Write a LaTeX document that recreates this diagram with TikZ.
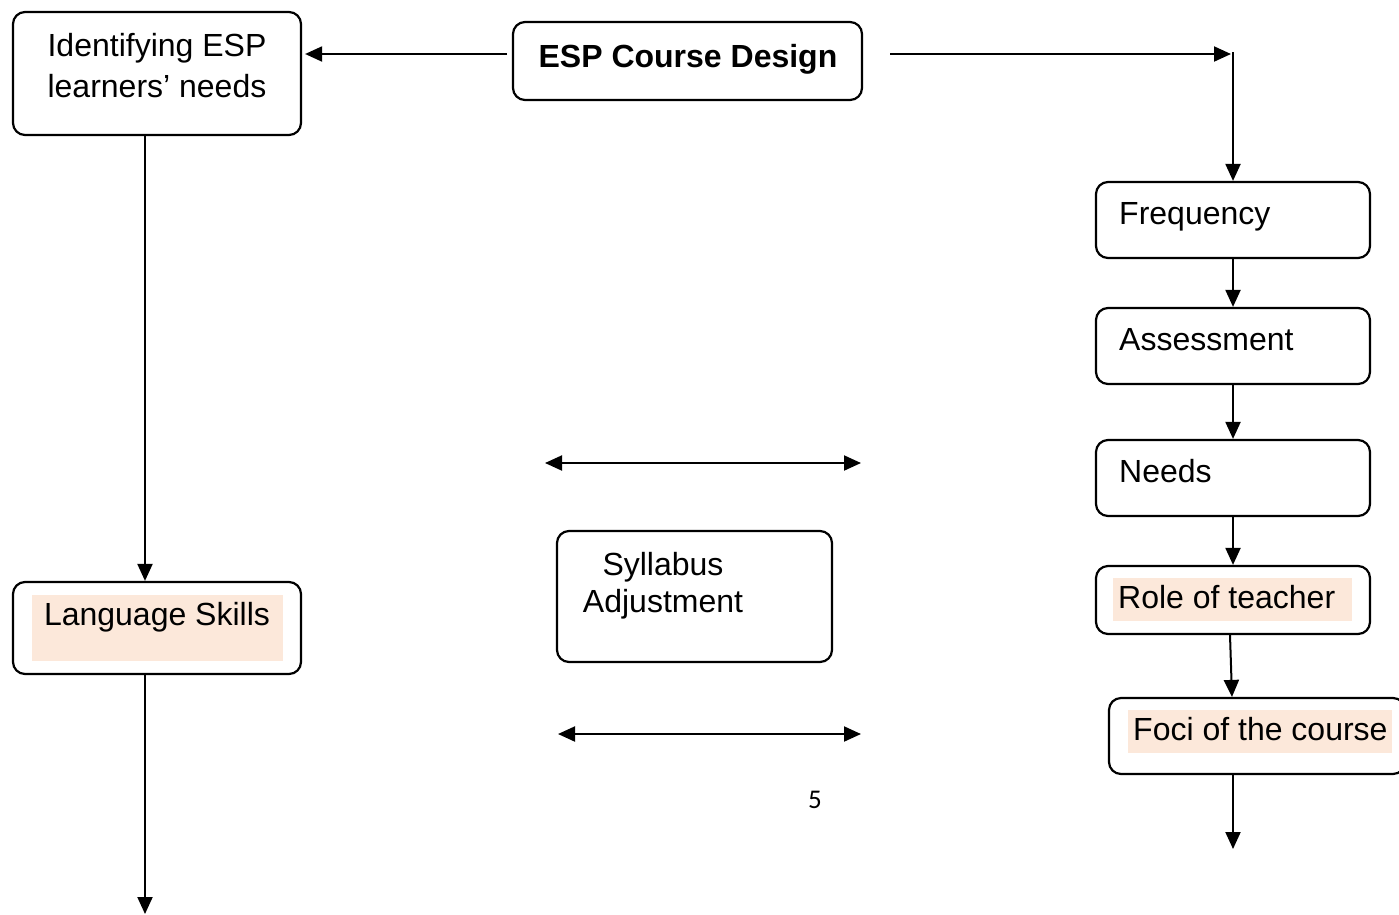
\documentclass[tikz,border=0pt]{standalone}
\usepackage{fontspec}
\setmainfont{Liberation Sans}
\newfontfamily\pagenumfont{Carlito}
\usetikzlibrary{arrows.meta}
\definecolor{peach}{RGB}{252,232,218}
\begin{document}
\begin{tikzpicture}[x=1pt,y=-1pt,
  box/.style={draw,line width=2.2pt,rounded corners=12pt,inner sep=0pt,minimum width=#1},
  box/.default=274pt,
  lbl/.style={inner sep=0pt,font=\fontsize{32}{41}\selectfont},
  arr/.style={line width=2pt,-{Triangle[length=17pt,width=15pt]}},
  darr/.style={line width=2pt,{Triangle[length=17pt,width=15pt]}-{Triangle[length=17pt,width=15pt]}},
  hl/.style={fill=peach}]
\useasboundingbox (0,0) rectangle (1399,914);
\begin{scope}
\clip (0,0) rectangle (1399,914);
% boxes
\node[box=288pt,minimum height=123pt] (A) at (157,73.5) {};
\node[box=349pt,minimum height=78pt] (B) at (687.5,61) {};
\node[box,minimum height=76pt] (F) at (1233,220) {};
\node[box,minimum height=76pt] (As) at (1233,346) {};
\node[box,minimum height=76pt] (N) at (1233,478) {};
\node[box,minimum height=68pt] (R) at (1233,600) {};
\node[box=296pt,minimum height=76pt] (Fo) at (1257,736) {};
\node[box=288pt,minimum height=92pt] (L) at (157,628) {};
\node[box=275pt,minimum height=131pt] (S) at (694.5,596.5) {};
% highlights
\fill[hl] (32,595) rectangle (283,661);
\fill[hl] (1113,578) rectangle (1352,621);
\fill[hl] (1128,710) rectangle (1392,753);
% texts
\node[lbl,anchor=base] (tA) at (157,56) {\begin{tabular}[t]{@{}c@{}}Identifying ESP\\learners’ needs\end{tabular}};
\node[lbl,anchor=base,font=\fontsize{32}{41}\selectfont\bfseries] (tB) at (688,67) {ESP Course Design};
\node[lbl,anchor=base west] (tF) at (1119,224) {Frequency};
\node[lbl,anchor=base west] (tAs) at (1119,350) {Assessment};
\node[lbl,anchor=base west] (tN) at (1119,482) {Needs};
\node[lbl,anchor=base west] (tR) at (1118,608) {Role of teacher};
\node[lbl,anchor=base west] (tFo) at (1133,740) {Foci of the course};
\node[lbl,anchor=base] (tL) at (157,625) {Language Skills};
\node[lbl,anchor=base,font=\fontsize{32}{37}\selectfont] (tS) at (663,575) {\begin{tabular}[t]{@{}c@{}}Syllabus\\Adjustment\end{tabular}};
\node[inner sep=0pt,anchor=base west,font=\pagenumfont\fontsize{27}{32}\selectfont] (pg) at (808,808) {5};
% coordinates
\coordinate (b1) at (507,54);
\coordinate (a1) at (A.east |- b1);
\coordinate (h1) at (890,54);
\coordinate (h2) at (1231,54);
\coordinate (v1) at (1233,52);
\coordinate (d1a) at (545,463);
\coordinate (d1b) at (861,463);
\coordinate (d2a) at (558,734);
\coordinate (d2b) at (861,734);
\coordinate (lend) at (145,914);
\coordinate (fend) at (1233,849);
% connectors
\draw[arr] (b1) -- ([xshift=3pt]a1);
\draw[arr] (h1) -- (h2);
\draw[arr] (v1) -- (F.north);
\draw[arr] (F.south) -- (As.north);
\draw[arr] (As.south) -- (N.north);
\draw[arr] (N.south) -- (R.north);
\draw[arr] ([xshift=-3pt]R.south) -- ([xshift=-25pt]Fo.north);
\draw[arr] ([xshift=-24pt]Fo.south) -- (fend);
\draw[arr] ([xshift=-12pt]A.south) -- ([xshift=-12pt]L.north);
\draw[arr] ([xshift=-12pt]L.south) -- (lend);
\draw[darr] (d1a) -- (d1b);
\draw[darr] (d2a) -- (d2b);
\end{scope}
\end{tikzpicture}
\end{document}
